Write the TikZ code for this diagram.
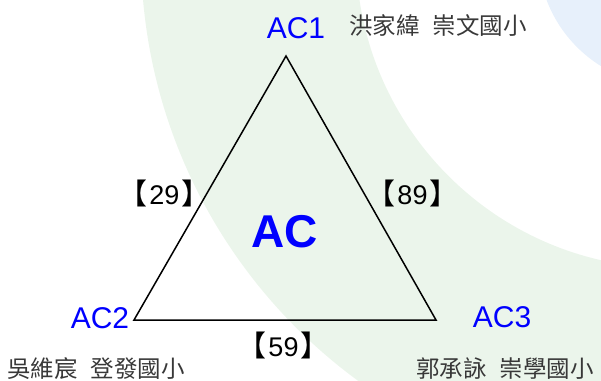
\documentclass[tikz,border=0pt]{standalone}
\usepackage{fontspec}
\setmainfont{Liberation Sans}
\newfontfamily\cjk[WordSpace=2.45]{Noto Sans CJK TC}
\definecolor{bandgreen}{HTML}{EBF5EB}
\definecolor{bandblue}{HTML}{E7F0FB}
\definecolor{namegray}{HTML}{383838}
\newcommand{\lbr}{{\cjk\fontsize{29}{30}\selectfont 【}\kern1.5pt}
\newcommand{\rbr}{\kern1.5pt{\cjk\fontsize{29}{30}\selectfont 】}}
\begin{document}
\begin{tikzpicture}[x=1pt,y=-1pt,
  vlabel/.style={text=blue, font=\fontsize{30}{36}\selectfont, inner sep=0, anchor=base},
  biglabel/.style={text=blue, font=\bfseries\fontsize{46}{52}\selectfont, inner sep=0, anchor=base},
  namelabel/.style={text=namegray, font=\cjk\fontsize{23.5}{28}\selectfont, inner sep=0, anchor=base west},
  numlabel/.style={font=\fontsize{27}{30}\selectfont, inner sep=0, anchor=base},
  tri/.style={line width=1.5pt, line join=miter}]
\useasboundingbox (0,0) rectangle (601,380);
\begin{scope}
  \clip (0,0) rectangle (601,380);
  \fill[bandgreen, even odd rule] (671,-47) circle[radius=530] (671,-47) circle[radius=315];
  \fill[bandblue] (671,-47) circle[radius=133];
\end{scope}
\coordinate (v1) at (286,56);
\coordinate (v2) at (134,320);
\coordinate (v3) at (436,320);
\draw[tri] (v1) -- (v2) -- (v3) -- cycle;
\node[vlabel] (ac1) at (296,38) {AC1};
\node[vlabel] (ac2) at (100,328) {AC2};
\node[vlabel] (ac3) at (502,327) {AC3};
\node[biglabel] (ac) at (285,247) {AC};
\node[namelabel] (n1) at (349,34) {洪家緯 崇文國小};
\node[namelabel] (n2) at (7,377) {吳維宸 登發國小};
\node[namelabel] (n3) at (416,377) {郭承詠 崇學國小};
\node[numlabel] (e12) at (164.5,204) {\lbr 29\rbr};
\node[numlabel] (e13) at (412.5,204) {\lbr 89\rbr};
\node[numlabel] (e23) at (283.5,356) {\lbr 59\rbr};
\end{tikzpicture}
\end{document}
